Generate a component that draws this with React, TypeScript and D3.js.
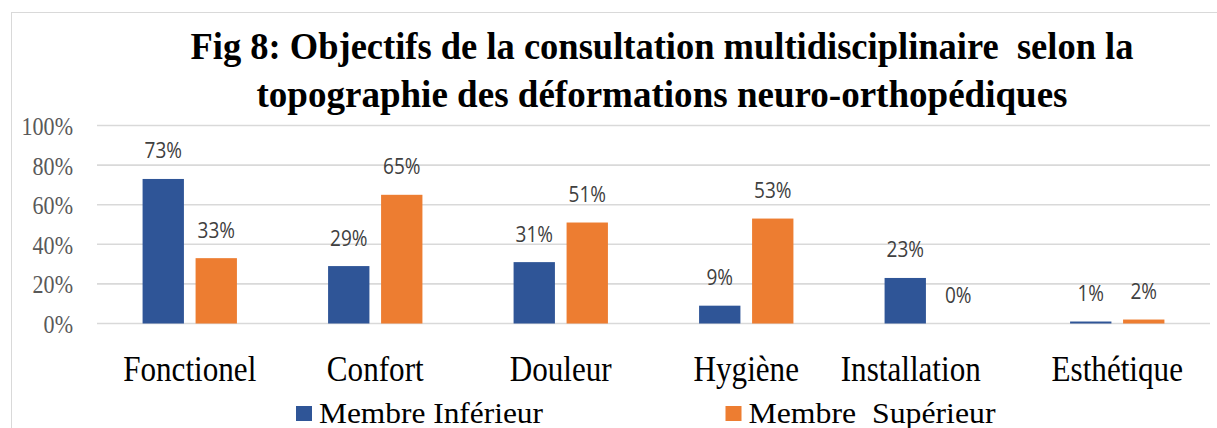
import React from "react";
import * as d3 from "d3";

const categories = ["Fonctionel", "Confort", "Douleur", "Hygiène", "Installation", "Esthétique"];
const seriesNames = ["Membre Inférieur", "Membre  Supérieur"];
const inferieur = [73, 29, 31, 9, 23, 1];
const superieur = [33, 65, 51, 53, 0, 2];
const yTicks = [0, 20, 40, 60, 80, 100];
const titleLines = [
  "Fig 8: Objectifs de la consultation multidisciplinaire  selon la",
  "topographie des déformations neuro-orthopédiques",
];

const W = 1217;
const H = 428;
const SX = 0.865; // horizontal squeeze of the original picture
const COLORS = ["#2F5597", "#ED7D31"];
const SERIF = "'Liberation Serif', 'Times New Roman', serif";
const SANS = "'Open Sans', 'Liberation Sans', sans-serif";
const LABEL_NUDGE: Record<string, number> = { Installation: -21 };

function SText(props: {
  x: number;
  y: number;
  anchor?: string;
  size: number;
  family: string;
  fill: string;
  weight?: string;
  children: React.ReactNode;
}) {
  return (
    <text
      transform={`translate(${props.x},${props.y}) scale(${SX},1)`}
      textAnchor={props.anchor || "middle"}
      fontSize={props.size}
      fontFamily={props.family}
      fill={props.fill}
      fontWeight={props.weight || "normal"}
      style={{ whiteSpace: "pre" }}
    >
      {props.children}
    </text>
  );
}

export default function App() {
  const x0 = d3.scaleBand<string>().domain(categories).range([97, 1210]).paddingInner(0).paddingOuter(0);
  const x1 = d3
    .scaleBand<string>()
    .domain(seriesNames)
    .range([0, x0.bandwidth()])
    .paddingInner(0.22)
    .paddingOuter(0.86);
  const y = d3.scaleLinear().domain([0, 100]).range([323.5, 125.5]);

  const series = [inferieur, superieur];

  return (
    <svg
      width={W}
      height={H}
      style={{ position: "absolute", left: 0, top: 0, background: "#fff" }}
    >
      <rect x={0} y={0} width={W} height={H} fill="#fff" />
      <rect x={11.5} y={12.5} width={1230} height={440} fill="none" stroke="#d9d9d9" strokeWidth={1} />

      {/* title */}
      {titleLines.map((t, i) => (
        <text
          key={i}
          x={662}
          y={59 + i * 48}
          textAnchor="middle"
          fontFamily={SERIF}
          fontWeight="bold"
          fontSize={38}
          fill="#000"
          textLength={i === 0 ? 943 : 811}
          lengthAdjust="spacingAndGlyphs"
          style={{ whiteSpace: "pre" }}
        >
          {t}
        </text>
      ))}

      {/* gridlines */}
      {yTicks.map((t) => (
        <line
          key={t}
          x1={97}
          x2={1210}
          y1={y(t)}
          y2={y(t)}
          stroke="#d9d9d9"
          strokeWidth={1.6}
        />
      ))}

      {/* y tick labels */}
      {yTicks.map((t) => (
        <SText key={t} x={73} y={y(t) + 9.5} anchor="end" size={25.5} family={SERIF} fill="#595959">
          {d3.format("d")(t) + "%"}
        </SText>
      ))}

      {/* bars */}
      {categories.map((c, ci) => (
        <g key={c} transform={`translate(${x0(c)},0)`}>
          {seriesNames.map((s, si) => {
            const v = series[si][ci];
            const bx = x1(s)!;
            const by = y(v);
            return (
              <g key={s}>
                <rect
                  x={bx}
                  y={Math.min(by, y(0) - (v > 0 ? 1.5 : 0))}
                  width={x1.bandwidth()}
                  height={Math.max(y(0) - by, v > 0 ? 1.5 : 0)}
                  fill={COLORS[si]}
                />
                <SText
                  x={bx + x1.bandwidth() / 2}
                  y={by - 20.5}
                  size={22}
                  family={SANS}
                  fill="#404040"
                >
                  {v + "%"}
                </SText>
              </g>
            );
          })}
        </g>
      ))}

      {/* category labels */}
      {categories.map((c) => (
        <SText
          key={c}
          x={x0(c)! + x0.bandwidth() / 2 + (LABEL_NUDGE[c] || 0)}
          y={381}
          size={36}
          family={SERIF}
          fill="#000"
        >
          {c}
        </SText>
      ))}

      {/* legend */}
      {seriesNames.map((s, i) => {
        const lx = i === 0 ? 296 : 725.5;
        return (
          <g key={s}>
            <rect x={lx} y={406} width={16} height={15} fill={COLORS[i]} />
            <text
              x={lx + 23}
              y={423}
              fontFamily={SERIF}
              fontSize={30}
              fill="#000"
              textLength={i === 0 ? 224 : 247}
              lengthAdjust="spacingAndGlyphs"
              style={{ whiteSpace: "pre" }}
            >
              {s}
            </text>
          </g>
        );
      })}
    </svg>
  );
}
